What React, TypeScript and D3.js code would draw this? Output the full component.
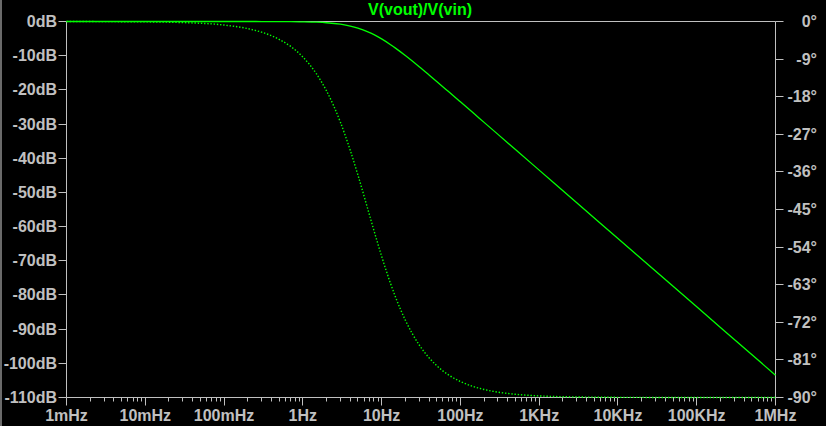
import React from 'react';
import * as d3 from 'd3';

// Readings taken from the Bode plot (frequency in Hz)
const freqs = [0.001, 0.01, 0.03, 0.1, 0.2, 0.3, 0.5, 0.7, 1, 1.5, 2, 3, 4, 5, 6.7, 8, 10, 13, 15, 20, 30, 40, 50, 70, 100, 150, 200, 300, 500, 1000, 3000, 10000, 100000, 1000000];
const magDb = [0, 0, 0, 0, -0.004, -0.009, -0.02, -0.05, -0.1, -0.21, -0.37, -0.79, -1.32, -1.92, -3.01, -3.85, -5.09, -6.78, -7.79, -9.96, -13.23, -15.64, -17.53, -20.42, -23.5, -27.01, -29.51, -33.02, -37.46, -43.48, -53.02, -63.48, -83.48, -103.48];
const phaseDeg = [0, -0.09, -0.26, -0.85, -1.71, -2.56, -4.27, -5.96, -8.49, -12.62, -16.62, -24.12, -30.84, -36.73, -45, -50.05, -56.18, -62.73, -65.93, -71.48, -77.41, -80.49, -82.37, -84.53, -86.17, -87.44, -88.08, -88.72, -89.23, -89.62, -89.87, -89.96, -90, -90];

const dbTicks = [0, -10, -20, -30, -40, -50, -60, -70, -80, -90, -100, -110];
const phaseTicks = [0, -9, -18, -27, -36, -45, -54, -63, -72, -81, -90];
const freqTicks = [0.001, 0.01, 0.1, 1, 10, 100, 1000, 10000, 100000, 1000000];
const freqLabels = ['1mHz', '10mHz', '100mHz', '1Hz', '10Hz', '100Hz', '1KHz', '10KHz', '100KHz', '1MHz'];

const title = 'V(vout)/V(vin)';

const W = 826;
const H = 426;
const left = 66.5;
const right = 775.5;
const top = 21.5;
const bottom = 397.5;

const GRAY = '#c0c0c0';
const GREEN = '#00ff00';
const FONT = '"Liberation Sans", Arial, sans-serif';

export default function App() {
  const x = d3.scaleLog().domain([0.001, 1000000]).range([left, right]);
  const yDb = d3.scaleLinear().domain([-110, 0]).range([bottom, top]);
  const yPh = d3.scaleLinear().domain([-90, 0]).range([bottom, top]);

  const pts = freqs.map((f, i) => ({ f, m: magDb[i], p: phaseDeg[i] }));

  const magLine = d3.line<{ f: number; m: number; p: number }>()
    .x(d => x(d.f))
    .y(d => yDb(d.m))
    .curve(d3.curveMonotoneX);

  const phaseLine = d3.line<{ f: number; m: number; p: number }>()
    .x(d => x(d.f))
    .y(d => yPh(d.p))
    .curve(d3.curveMonotoneX);

  // minor ticks 2..9 in each decade
  const minor: number[] = [];
  for (let k = 0; k < freqTicks.length - 1; k++) {
    for (let m = 2; m <= 9; m++) minor.push(freqTicks[k] * m);
  }

  const snap = (v: number) => Math.round(v - 0.5) + 0.5;

  return (
    <svg
      width={W}
      height={H}
      style={{ position: 'absolute', left: 0, top: 0, background: '#000' }}
      fontFamily={FONT}
      fontWeight="bold"
      fontSize={16}
    >
      <rect x={0} y={0} width={W} height={H} fill="#000" />
      <rect x={0} y={0} width={2} height={H} fill="#6a6a6a" />

      {/* frame */}
      <line x1={left} x2={right} y1={top} y2={top} stroke={GRAY} />
      <line x1={left} x2={right} y1={bottom} y2={bottom} stroke={GRAY} />
      <line x1={left} x2={left} y1={top} y2={bottom} stroke={GRAY} />
      <line x1={right} x2={right} y1={top} y2={bottom} stroke={GRAY} />

      {/* left axis */}
      {dbTicks.map(t => (
        <g key={'db' + t}>
          <line x1={left - 8} x2={left} y1={snap(yDb(t))} y2={snap(yDb(t))} stroke={GRAY} />
          <text x={57} y={yDb(t) + 5.5} textAnchor="end" fill={GRAY}>{t}dB</text>
        </g>
      ))}

      {/* right axis */}
      {phaseTicks.map(t => (
        <g key={'ph' + t}>
          <line x1={right} x2={right + 8} y1={snap(yPh(t))} y2={snap(yPh(t))} stroke={GRAY} />
          <text x={817} y={yPh(t) + 5.5} textAnchor="end" fill={GRAY}>{t}°</text>
        </g>
      ))}

      {/* bottom axis */}
      {minor.map((f, i) => (
        <line key={'mn' + i} x1={snap(x(f))} x2={snap(x(f))} y1={bottom} y2={bottom + 4} stroke={GRAY} />
      ))}
      {freqTicks.map((f, i) => (
        <g key={'fq' + i}>
          <line x1={snap(x(f))} x2={snap(x(f))} y1={bottom} y2={bottom + 8} stroke={GRAY} />
          <text x={x(f)} y={420.5} textAnchor="middle" fill={GRAY}>{freqLabels[i]}</text>
        </g>
      ))}

      {/* traces */}
      <path d={phaseLine(pts) ?? ''} fill="none" stroke={GREEN} strokeWidth={1.4} strokeDasharray="1.4,1.8" />
      <path d={magLine(pts) ?? ''} fill="none" stroke={GREEN} strokeWidth={1.3} />

      <text x={420} y={15} textAnchor="middle" fill={GREEN}>{title}</text>
    </svg>
  );
}
